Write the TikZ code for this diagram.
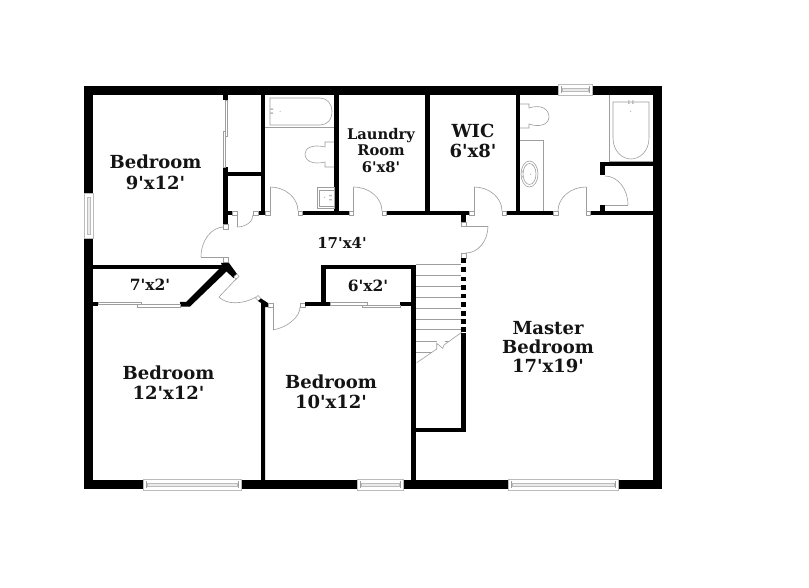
\documentclass[tikz,border=0pt]{standalone}
\usepackage{fontspec}
\newfontfamily\lblfont{DejaVu Serif}
\usetikzlibrary{calc}
\definecolor{fix}{gray}{0.62}
\definecolor{winin}{gray}{0.86}
\tikzset{
  x=1pt,y=-1pt,
  wall/.style={fill=black,draw=none},
  fixture/.style={draw=fix,line width=0.6pt,fill=none},
  jambbox/.style={draw=fix,line width=0.5pt,fill=white},
  windowbox/.style={draw=fix!70,line width=0.6pt,fill=white},
  windowin/.style={draw=fix!70,line width=0.4pt,fill=winin!60},
  label/.style={align=center,inner sep=0pt,text=black!92}
}
\newcommand\lf[2]{\lblfont\bfseries\fontsize{#1}{#2}\selectfont}
\newcommand\wl[4]{\fill[wall] (#1,#2) rectangle (#3,#4);}
\newcommand\jb[4]{\draw[jambbox] (#1,#2) rectangle (#3,#4);}
\newcommand\qarc[6]{\draw[fixture] (#1,#2) .. controls ($(#1,#2)!.55!(#3,#4)$) and ($(#5,#6)!.55!(#3,#4)$) .. (#5,#6);}
\newcommand\fxl[4]{\draw[fixture] (#1,#2) -- (#3,#4);}
\newcommand\hwin[3]{\draw[windowbox] (#1,#3) rectangle (#2,#3+11);
  \draw[windowin] (#1+4,#3+4) rectangle (#2-4,#3+7);
  \draw[fixture] (#1+3,#3+2) -- (#1+3,#3+9) (#2-3,#3+2) -- (#2-3,#3+9);}
\begin{document}
\begin{tikzpicture}
\path[use as bounding box,fill=white] (0,0) rectangle (809,588);
% outer walls
\wl{84}{86}{662}{95}
\wl{84}{480}{662}{489}
\wl{84}{86}{93}{489}
\wl{653}{86}{662}{489}
% windows
\hwin{558}{592}{84}
\hwin{143}{241}{479}
\hwin{357}{403}{479}
\hwin{508}{618}{479}
\draw[windowbox] (84,193) rectangle (93,238);
\draw[windowin] (87.5,197) rectangle (90.5,234);
% upper interior walls
\wl{223}{95}{228}{100}
\wl{223}{167}{228}{224}
\wl{228}{172}{261}{176}
\wl{261}{95}{265}{215}
\wl{228}{211}{232}{215}
\wl{258}{211}{265}{215}
\wl{334}{95}{339}{215}
\wl{302}{211}{349}{215}
\wl{386}{211}{469}{215}
\wl{425}{95}{430}{215}
\wl{516}{95}{520}{215}
\wl{506}{211}{553}{215}
\wl{590}{211}{653}{215}
\wl{600}{162}{653}{166}
\wl{600}{162}{605}{175}
\wl{600}{205}{605}{212}
\wl{461}{215}{466}{222}
% closet slider
\draw[fixture] (225.5,100) rectangle (227.5,136);
\draw[fixture] (223.5,131) rectangle (225.5,167);
% door jambs upper
\jb{232}{211}{237}{215}
\jb{253}{211}{258}{215}
\jb{265}{211}{270}{215}
\jb{298}{211}{302}{215}
\jb{349}{211}{353.5}{215}
\jb{382}{211}{386}{215}
\jb{469}{211}{474}{215}
\jb{502}{211}{506}{215}
\jb{553}{211}{558}{215}
\jb{586}{211}{590}{215}
\jb{461}{222}{466}{226}
\jb{461}{253}{466}{258}
\jb{223}{224}{228}{229}
\jb{223}{257}{228}{262}
% door leaves
\fxl{237}{215}{237}{227}\qarc{237}{227}{253}{227}{253}{215}
\fxl{270}{211}{270}{187}\qarc{270}{187}{298}{187}{298}{211}
\fxl{353.5}{211}{353.5}{187}\qarc{353.5}{187}{382}{187}{382}{211}
\fxl{474}{211}{474}{187}\qarc{474}{187}{502}{187}{502}{211}
\fxl{586}{211}{586}{187}\qarc{586}{187}{558}{187}{558}{211}
\fxl{605}{205}{628}{205}\qarc{628}{205}{628}{176}{605}{176}
\fxl{466}{226}{488}{226}\qarc{488}{226}{488}{253}{466}{253}
\fxl{224}{257}{201}{257}\qarc{201}{257}{201}{227}{224}{227}
% left middle walls
\wl{93}{265}{225}{269.5}
\fill[wall] (221,263) -- (229,263) -- (237,274) -- (233.5,278) -- (226.5,271.5) -- (190,306.5) -- (180,306.5) -- (180,302) -- (186,302) -- (222,266) -- cycle;
\wl{93}{302}{98}{306}
\draw[fixture] (98,302) rectangle (141,304.5);
\draw[fixture] (137,304.5) rectangle (180,307);
% diagonal door
\draw[jambbox] (234,276.5) -- (237,274) -- (239,276.5) -- (236,279.5) -- cycle;
\fxl{237}{278}{219}{297}\qarc{219}{297}{232}{311}{256}{297}
\draw[jambbox] (255.5,298) -- (258,295.5) -- (261,298.5) -- (258.5,301) -- cycle;
% wall between lower bedrooms
\fill[wall] (258,301) -- (261,298.5) -- (268,303) -- (268,307) -- (265,307) -- (265,480) -- (261,480) -- (261,303) -- cycle;
\jb{268}{303}{273}{307}
\fxl{273}{307}{273}{330}\qarc{273}{330}{300}{325}{300}{307}
\jb{300}{303}{305}{307}
% closet 6x2
\wl{305}{302}{330}{306}
\wl{321}{265}{326}{306}
\wl{321}{265}{416}{269}
\wl{411}{265}{416}{480}
\wl{400}{302}{411}{306}
\draw[fixture] (330,302.5) rectangle (367,305);
\draw[fixture] (362,305) rectangle (400,307.5);
% stairs
\foreach \yy in {264,275,286,297,308,319,329}{\draw[fixture] (416,\yy) -- (461,\yy);}
\draw[fixture] (416,341) -- (436.7,341);
\draw[fixture] (416,352) -- (432,352);
\draw[fixture] (444.5,341) -- (449,341);
\draw[fixture] (416.7,362.7) -- (436.7,349) -- (436.7,343.3) -- (442.7,348.3) -- (444,345) -- (461.7,332.3);
\foreach \yy in {258.5,267.5,277,285.5,294,302,311,319,327}{\fill[wall] (461,\yy) rectangle (466,\yy+4.5);}
\wl{461}{333}{466}{432}
\wl{411}{428}{466}{432}
% bath 1 fixtures
\draw[fixture] (270,98) -- (320,98) .. controls (327,98) and (332,104) .. (332,111) .. controls (332,120) and (327,125) .. (320,125) -- (270,125) -- cycle;
\draw[fixture] (265,127.5) -- (334,127.5);
\fill[fix!70] (270,108.5) rectangle (273,110) (270,112.5) rectangle (273,114) (279.5,111) rectangle (280.5,112);
\draw[fixture] (334,142) -- (325,142) -- (325,147) .. controls (312,144) and (305,148) .. (305,154) .. controls (305,161) and (313,165) .. (325,162) -- (325,167) -- (334,167);
\draw[fixture] (317,187) rectangle (334,208);
\draw[fixture] (319,190) rectangle (334,206);
\fill[fix!70] (324,197) rectangle (325,198) (329,195) rectangle (332,196.5) (329,199) rectangle (332,200.5);
% master bath fixtures
\draw[fixture] (520,104) -- (529,104) -- (529,108) .. controls (541,104) and (549,109) .. (549,117) .. controls (549,124) and (540,128) .. (529,124) -- (529,128) -- (520,128);
\draw[fixture] (520,140) -- (543,140) -- (543,211);
\draw[fixture] (529.5,174) ellipse [x radius=8.5,y radius=13];
\draw[fixture] (529.5,174) ellipse [x radius=6.5,y radius=10.5];
\fill[fix!70] (521,171) rectangle (524,172.5) (521,176) rectangle (524,177.5) (530,174) rectangle (531,175);
\draw[fixture] (609,95) -- (609,161);
\draw[fixture] (609,161) -- (653,161);
\draw[fixture] (613,102) -- (649,102) -- (649,138) .. controls (649,151) and (640,159) .. (631,159) .. controls (622,159) and (613,151) .. (613,138) -- cycle;
\fill[fix!70] (628,100.5) rectangle (629.5,104) (632,100.5) rectangle (633.5,104) (630,111) rectangle (631,112);
% labels
\node[label,font=\lf{18}{21}] (bedA) at (155.5,172.5) {Bedroom\\9'x12'};
\node[label,font=\lf{14.7}{16.6}] (laundry) at (381,150.5) {Laundry\\Room\\6'x8'};
\node[label,font=\lf{18}{20.5}] (wic) at (473,141) {WIC\\6'x8'};
\node[label,font=\lf{15}{18}] (hall) at (342,243) {17'x4'};
\node[label,font=\lf{15.5}{18}] (closetA) at (150,285) {7'x2'};
\node[label,font=\lf{15.5}{18}] (closetB) at (368,286) {6'x2'};
\node[label,font=\lf{18}{20}] (bedB) at (168.5,383) {Bedroom\\12'x12'};
\node[label,font=\lf{18}{20}] (bedC) at (331,392) {Bedroom\\10'x12'};
\node[label,font=\lf{18}{19}] (master) at (548,347.5) {Master\\Bedroom\\17'x19'};
\end{tikzpicture}
\end{document}
